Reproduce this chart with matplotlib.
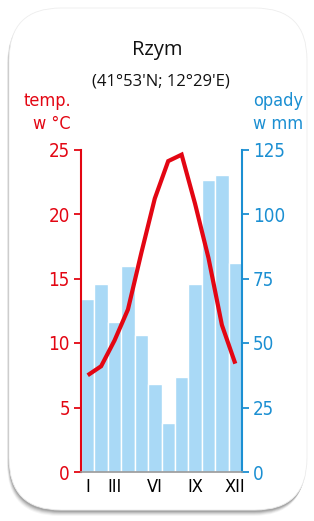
import matplotlib
matplotlib.use('Agg')
from matplotlib import pyplot as plt
from matplotlib.patches import FancyBboxPatch

months = ['I', 'II', 'III', 'IV', 'V', 'VI', 'VII', 'VIII', 'IX', 'X', 'XI', 'XII']
temperature = [7.5, 8.2, 10.2, 12.6, 17.0, 21.2, 24.1, 24.6, 20.8, 16.6, 11.4, 8.4]
precipitation = [67, 73, 58, 80, 53, 34, 19, 37, 73, 113, 115, 81]
shown_months = ['I', 'III', 'VI', 'IX', 'XII']
temp_ticks = [0, 5, 10, 15, 20, 25]
prec_ticks = [0, 25, 50, 75, 100, 125]

RED = '#e30613'
BLUE = '#1b8fd2'
BAR = '#a9d9f6'
REG = ['Open Sans', 'DejaVu Sans']
narrow = dict(family='DejaVu Sans', stretch='condensed')

W, H = 314, 521
fig = plt.figure(figsize=(W / 100, H / 100), dpi=100)
fig.patch.set_facecolor('white')

# background card, drawn in pixel units
bg = fig.add_axes([0, 0, 1, 1], zorder=-5)
bg.set_xlim(0, W)
bg.set_ylim(H, 0)
bg.axis('off')
for i, a in enumerate([0.04, 0.06, 0.08, 0.10, 0.12]):
    off = 5 - i
    bg.add_patch(FancyBboxPatch(
        (9 - off * 0.4, 9 + off * 0.6), 298, 502 + off * 0.4,
        boxstyle='round,pad=0,rounding_size=52',
        facecolor='black', edgecolor='none', alpha=a))
bg.add_patch(FancyBboxPatch(
    (9, 8), 298, 502, boxstyle='round,pad=0,rounding_size=52',
    facecolor='white', edgecolor='#ededed', linewidth=0.6))


def fx(px):
    return px / W


def fy(px):
    return 1 - px / H


fig.text(fx(157), fy(50), 'Rzym', ha='center', va='center', fontsize=14.5,
         family=REG, weight='medium', color='#111111')
fig.text(fx(161), fy(81), "(41°53'N; 12°29'E)", ha='center', va='center',
         fontsize=12, family=REG, color='#111111')
fig.text(fx(71), fy(101), 'temp.', ha='right', va='center', fontsize=13,
         color=RED, **narrow)
fig.text(fx(71), fy(124), 'w °C', ha='right', va='center', fontsize=13,
         color=RED, **narrow)
fig.text(fx(253), fy(101), 'opady', ha='left', va='center', fontsize=13,
         color=BLUE, **narrow)
fig.text(fx(253), fy(124), 'w mm', ha='left', va='center', fontsize=13,
         color=BLUE, **narrow)

ax = fig.add_axes([fx(81), fy(472), fx(242) - fx(81), fy(149.5) - fy(472)])
ax.set_facecolor('none')
ax2 = ax.twinx()
ax.set_zorder(ax2.get_zorder() + 1)

x = list(range(1, 13))
ax2.bar(x, precipitation, width=1.0, color=BAR, edgecolor='white', linewidth=1.0)
ax.plot(x, temperature, color=RED, linewidth=3.0, solid_capstyle='butt',
        solid_joinstyle='miter')

ax.set_xlim(0.5, 12.5)
ax.set_ylim(0, 25)
ax2.set_ylim(0, 125)

ax.set_yticks(temp_ticks)
ax2.set_yticks(prec_ticks)
ax.set_xticks([months.index(m) + 1 for m in shown_months])
ax.set_xticklabels(shown_months, fontsize=13, **narrow)
ax.tick_params(axis='x', length=0, pad=4)
ax.tick_params(axis='y', colors=RED, length=5, width=1.3, pad=3)
ax2.tick_params(axis='y', colors=BLUE, length=5, width=1.3, pad=3)
for lbl in ax.get_yticklabels() + ax2.get_yticklabels():
    lbl.set_family('DejaVu Sans')
    lbl.set_stretch('condensed')
    lbl.set_fontsize(13.5)

for a in (ax, ax2):
    for s in a.spines.values():
        s.set_visible(False)
ax.spines['left'].set_visible(True)
ax.spines['left'].set_color(RED)
ax.spines['left'].set_linewidth(1.5)
ax2.spines['right'].set_visible(True)
ax2.spines['right'].set_color(BLUE)
ax2.spines['right'].set_linewidth(1.5)
ax.spines['bottom'].set_visible(True)
ax.spines['bottom'].set_color('#9a9a9a')
ax.spines['bottom'].set_linewidth(1.2)

fig.savefig('out.png', dpi=100)
